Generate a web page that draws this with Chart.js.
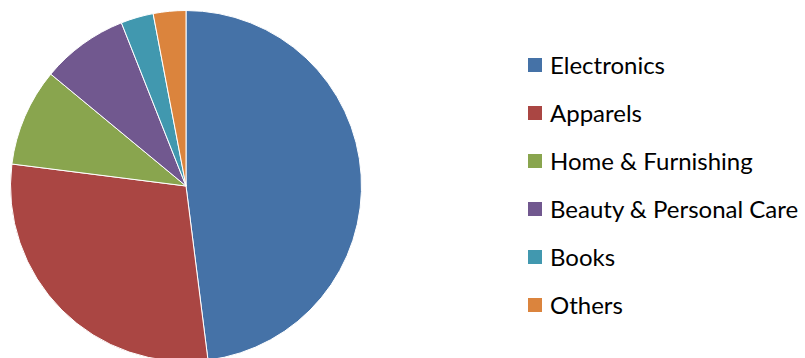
<!DOCTYPE html>
<html>
<head>
<meta charset="utf-8">
<script src="https://cdn.jsdelivr.net/npm/chart.js@4"></script>
<style>
  html, body { margin: 0; padding: 0; background: #fff; overflow: hidden; }
  #wrap { position: relative; width: 805px; height: 358px; }
  #pie { position: absolute; left: 0; top: 0; }
  #legend { position: absolute; left: 528px; top: 45px; list-style: none; margin: 0; padding: 0;
    font-family: Lato, "Liberation Sans", sans-serif; font-size: 24px; color: #000; }
  #legend li { height: 48px; line-height: 40px; white-space: nowrap; }
  #legend span { display: inline-block; width: 14px; height: 14px; margin-right: 8px; vertical-align: 2px; }
</style>
</head>
<body>
<div id="wrap">
  <canvas id="pie" width="372" height="372"></canvas>
  <ul id="legend"></ul>
</div>
<script>
var categories = ['Electronics', 'Apparels', 'Home & Furnishing', 'Beauty & Personal Care', 'Books', 'Others'];
var shares = [48, 29, 9, 8, 3, 3];
var colors = ['#4572A7', '#AA4643', '#89A54E', '#71588F', '#4198AF', '#DB843D'];

var ctx = document.getElementById('pie').getContext('2d');
var chart = new Chart(ctx, {
    type: 'pie',
    data: {
        labels: categories,
        datasets: [{
            data: shares,
            backgroundColor: colors,
            borderColor: '#ffffff',
            borderWidth: 1
        }]
    },
    options: {
        responsive: false,
        animation: false,
        layout: { padding: 10 },
        plugins: {
            legend: { display: false },
            tooltip: { enabled: false }
        }
    }
});

// legend built from the same arrays
var content = '';
categories.forEach(function (c, i) {
    content += '<li><span style="background:' + colors[i] + '"></span>' + c.replace('&', '&amp;') + '</li>';
});
document.getElementById('legend').innerHTML = content;
</script>
</body>
</html>
